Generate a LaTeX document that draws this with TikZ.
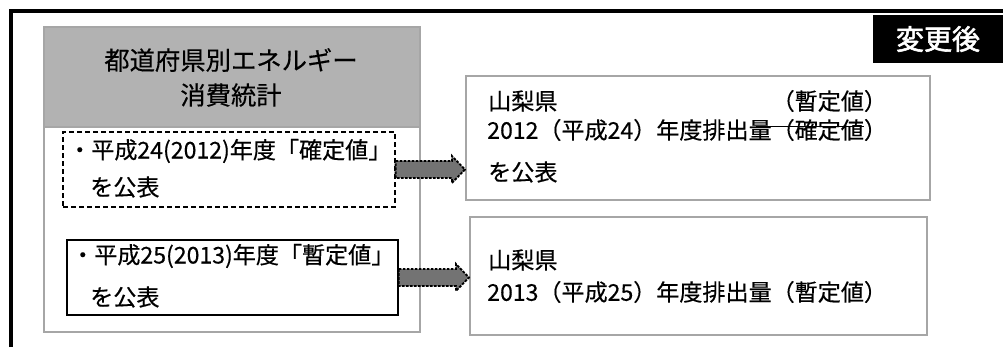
\documentclass[tikz,border=0pt]{standalone}
\usepackage{fontspec}
\setmainfont{Noto Sans CJK JP}[FakeBold=0.4]
\newfontfamily\cjkbold{Noto Sans CJK JP}[FakeBold=2]
\usetikzlibrary{calc,fit}
\newcommand\mystrk[1]{\setbox0\hbox{#1}\rlap{\kern0.3em\rule[0.52em]{\dimexpr\wd0-0.3em\relax}{0.9pt}}\box0}
\newcommand\fatarrow[2]{%
  \filldraw[fatarr] ($(#1)+(0,-8.5)$) -- ($(#2)+(-13,-8.5)$) -- ($(#2)+(-13,-13.5)$) -- (#2)
     -- ($(#2)+(-13,13.5)$) -- ($(#2)+(-13,8.5)$) -- ($(#1)+(0,8.5)$) -- cycle;}
\begin{document}
\begin{tikzpicture}[x=0.75pt,y=-0.75pt,
  frameline/.style={line width=2.4pt,black},
  grayborder/.style={draw=gray!70,line width=1.6pt},
  boxed/.style={inner sep=0pt},
  txt/.style={anchor=west,inner sep=0pt,font=\fontsize{17.3}{20}\selectfont},
  hdrtxt/.style={inner sep=0pt,font=\fontsize{19}{22}\selectfont},
  fatarr/.style={fill=black!55,draw=black,line width=1.4pt,dash pattern=on 2pt off 1pt}]
\useasboundingbox (0,0) rectangle (1003,347);
% frame
\draw[frameline] (11,347) -- (11,11) -- (1003,11);
% badge
\node[boxed,fill=black,fit={(873,15) (1003,63)}] (chg) {};
\node[inner sep=0pt,text=white,font=\cjkbold\fontsize{21}{24}\selectfont] (chgt) at (chg.center) {変更後};
% left group
\node[boxed,grayborder,fit={(44,27) (420,332)}] (outer) {};
\node[boxed,grayborder,fill=gray!60,fit={(44,27) (420,127)}] (hdr) {};
\node[hdrtxt] (h1) at (231,60) {都道府県別エネルギー};
\node[hdrtxt] (h2) at (231,95) {消費統計};
\node[boxed,draw=black,line width=1pt,dash pattern=on 4pt off 2pt,fill=white,fit={(63,132) (395,207)}] (dbox) {};
\node[boxed,draw=black,line width=1.2pt,fill=white,fit={(67,240) (398,315)}] (sbox) {};
% right boxes
\node[boxed,grayborder,fill=white,fit={(466,76) (930,200)}] (r1) {};
\node[boxed,grayborder,fill=white,fit={(470,217) (927,335)}] (r2) {};
% arrows
\fatarrow{dbox.east}{dbox.east -| r1.west}
\fatarrow{sbox.east}{sbox.east -| r2.west}
% texts left
\node[txt] (d1) at (68,151) {・平成24(2012)年度「確定値」};
\node[txt] (d2) at (90,187) {を公表};
\node[txt] (s1) at (71,256) {・平成25(2013)年度「暫定値」};
\node[txt] (s2) at (90,297) {を公表};
% texts right
\node[txt] (a1) at (488,101) {山梨県};
\node[txt] (a2) at (487,130) {2012（平成24）年度排出\mystrk{量（確定値}）};
\node[txt,anchor=east] (a4) at (a2.east |- a1.west) {（暫定値）};
\node[txt] (a3) at (488,172) {を公表};
\node[txt] (b1) at (488,260) {山梨県};
\node[txt] (b2) at (487,292) {2013（平成25）年度排出量（暫定値）};
\end{tikzpicture}
\end{document}
